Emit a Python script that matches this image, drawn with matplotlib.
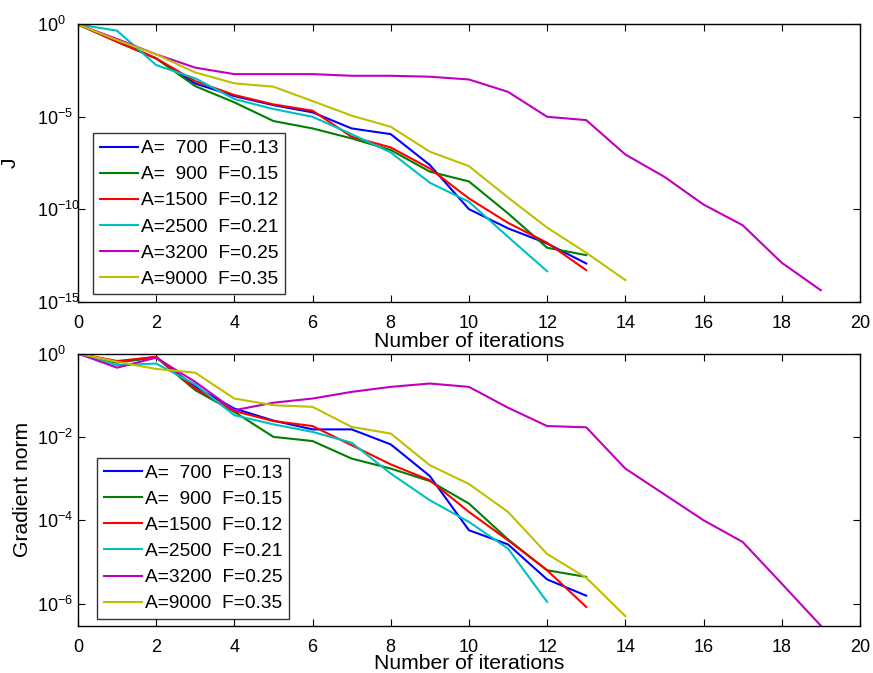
import numpy as np
import matplotlib
matplotlib.use("Agg")
import matplotlib.pyplot as plt
from matplotlib.ticker import FixedLocator, NullLocator

plt.rcParams['font.family'] = ['Liberation Sans', 'DejaVu Sans']
plt.rcParams['mathtext.fontset'] = 'custom'
plt.rcParams['mathtext.rm'] = 'Liberation Sans'
plt.rcParams['mathtext.it'] = 'Liberation Sans'
plt.rcParams['mathtext.default'] = 'regular'

labels = ["A=  700  F=0.13", "A=  900  F=0.15", "A=1500  F=0.12",
          "A=2500  F=0.21", "A=3200  F=0.25", "A=9000  F=0.35"]
colors = [(0, 0, 1), (0, 0.5, 0), (1, 0, 0), (0, 0.75, 0.75), (0.75, 0, 0.75), (0.75, 0.75, 0)]

# log10 of J
J_a700 = [0, -0.92, -1.84, -3.2, -3.88, -4.37, -4.76, -5.63, -5.94, -7.61, -10.0, -11.04, -11.86, -12.94]
J_a900 = [0, -0.92, -1.84, -3.34, -4.22, -5.23, -5.63, -6.17, -6.8, -7.97, -8.5, -10.23, -12.09, -12.49]
J_a1500 = [0, -0.94, -1.84, -3.07, -3.82, -4.33, -4.67, -6.08, -6.66, -7.8, -9.42, -10.74, -11.82, -13.3]
J_a2500 = [0, -0.34, -2.2, -2.92, -4.04, -4.58, -5.0, -5.94, -6.93, -8.57, -9.6, -11.5, -13.36]
J_a3200 = [0, -0.79, -1.62, -2.34, -2.69, -2.69, -2.69, -2.78, -2.78, -2.83, -2.98, -3.65, -5.0, -5.18,
           -7.04, -8.25, -9.75, -10.87, -12.9, -14.39]
J_a9000 = [0, -0.85, -1.62, -2.6, -3.19, -3.37, -4.15, -4.94, -5.54, -6.89, -7.67, -9.37, -11.0, -12.36, -13.84]

# log10 of gradient norm
G_a700 = [0, -0.21, -0.08, -0.8, -1.32, -1.61, -1.82, -1.82, -2.18, -2.94, -4.24, -4.58, -5.42, -5.81]
G_a900 = [0, -0.22, -0.09, -0.88, -1.4, -2.0, -2.1, -2.52, -2.76, -3.06, -3.6, -4.46, -5.2, -5.36]
G_a1500 = [0, -0.18, -0.08, -0.84, -1.38, -1.62, -1.74, -2.2, -2.66, -3.04, -3.8, -4.48, -5.2, -6.08]
G_a2500 = [0, -0.28, -0.24, -0.74, -1.48, -1.7, -1.88, -2.14, -2.88, -3.52, -4.04, -4.68, -5.96]
G_a3200 = [0, -0.34, -0.1, -0.68, -1.36, -1.18, -1.08, -0.92, -0.8, -0.72, -0.8, -1.3, -1.74, -1.77,
           -2.76, -3.38, -4.0, -4.52, -5.52, -6.53]
G_a9000 = [0, -0.2, -0.37, -0.46, -1.08, -1.24, -1.28, -1.76, -1.92, -2.68, -3.13, -3.8, -4.81, -5.38, -6.3]

J_series = [J_a700, J_a900, J_a1500, J_a2500, J_a3200, J_a9000]
G_series = [G_a700, G_a900, G_a1500, G_a2500, G_a3200, G_a9000]

x_ticks = [0, 2, 4, 6, 8, 10, 12, 14, 16, 18, 20]
J_yticks = [1e-15, 1e-10, 1e-5, 1e0]
G_yticks = [1e-6, 1e-4, 1e-2, 1e0]

fig = plt.figure(figsize=(8.73, 6.73), dpi=100)
ax1 = fig.add_axes([0.0893, 0.552, 0.8957, 0.4117])
ax2 = fig.add_axes([0.0893, 0.0703, 0.8957, 0.4044])

FS_TICK = 13
FS_LABEL = 15.2
FS_LEG = 13.8

def style(ax, yticks, ylabel, label_x, xlabelpad):
    ax.set_yscale('log')
    ax.set_xlim(0, 20)
    ax.xaxis.set_major_locator(FixedLocator(x_ticks))
    ax.yaxis.set_major_locator(FixedLocator(yticks))
    ax.yaxis.set_minor_locator(NullLocator())
    ax.set_yticklabels([r'$10^{%d}$' % int(round(np.log10(t))) for t in yticks])
    ax.tick_params(direction='in', length=5, width=0.8, top=True, right=True,
                   labelsize=FS_TICK, colors='black')
    ax.tick_params(axis='x', pad=9.7)
    ax.tick_params(axis='y', pad=29.5)
    for lab in ax.get_yticklabels():
        lab.set_horizontalalignment('left')
    for s in ax.spines.values():
        s.set_linewidth(1.0)
        s.set_color('black')
    ax.set_xlabel('Number of iterations', fontsize=FS_LABEL, labelpad=xlabelpad)
    ax.set_ylabel(ylabel, fontsize=FS_LABEL)
    ax.yaxis.set_label_coords(label_x, 0.5)

for ser, c, lab in zip(J_series, colors, labels):
    ax1.plot(range(len(ser)), 10.0 ** np.array(ser), color=c, lw=1.5, label=lab)
for ser, c, lab in zip(G_series, colors, labels):
    ax2.plot(range(len(ser)), 10.0 ** np.array(ser), color=c, lw=1.5, label=lab)

style(ax1, J_yticks, 'J', -0.074, 0)
ax1.set_ylim(1e-15, 1)
style(ax2, G_yticks, 'Gradient norm', -0.059, -1.2)
ax2.set_ylim(10.0 ** min(G_a3200), 1)

for ax, anchor in [(ax1, (0.0192, 0.026)), (ax2, (0.0243, 0.0246))]:
    leg = ax.legend(loc='lower left', bbox_to_anchor=anchor, fontsize=FS_LEG, frameon=True,
                    fancybox=False, borderaxespad=0, handlelength=1.98, handletextpad=0.19,
                    labelspacing=0.45, borderpad=0.35)
    leg.get_frame().set_edgecolor('black')
    leg.get_frame().set_linewidth(1.0)

fig.savefig('out.png', dpi=100)
